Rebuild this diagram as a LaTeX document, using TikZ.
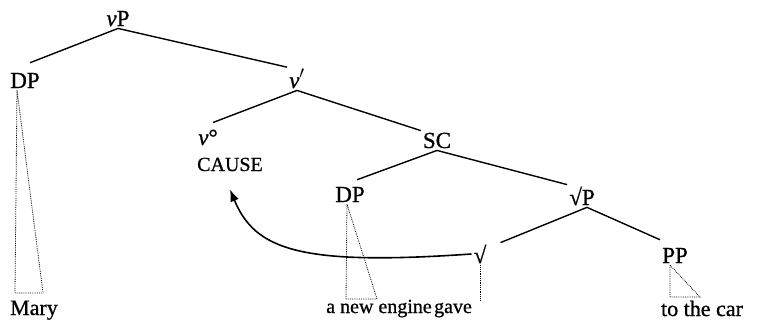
\documentclass[tikz,border=0pt]{standalone}
\usepackage{fontspec}
\setmainfont{Liberation Serif}[FakeBold=0.8]
\usetikzlibrary{arrows.meta}

\begin{document}
\begin{tikzpicture}[
    x=1pt,y=-1pt,
    cat/.style={font=\fontsize{23}{26}\selectfont,inner sep=2pt,anchor=base},
    leaf/.style={font=\fontsize{20}{24}\selectfont,inner sep=2pt,anchor=base},
    branch/.style={line width=1.4pt},
    roof/.style={densely dotted,line width=0.8pt},
    move/.style={-{Latex[length=12pt,width=9pt]},line width=1.6pt}
  ]
    \useasboundingbox (0,0) rectangle (766,325);
    \node[cat] (vP) at (118,26) {\textit{v}P};
    \node[cat] (dpA) at (25,88) {DP};
    \node[cat] (vbar) at (297,88) {\textit{v}$'$};
    \node[cat] (vzero) at (208,145) {\textit{v}°};
    \node[leaf] (cause) at (230,171) {CAUSE};
    \node[cat] (sc) at (437,148) {SC};
    \node[cat] (dpB) at (350,202) {DP};
    \node[cat] (rootP) at (582,205) {√P};
    \node[cat] (root) at (480,263) {√};
    \node[cat] (pp) at (675,263) {PP};
    \node[leaf,font=\fontsize{22}{26}\selectfont] (mary) at (34,315) {Mary};
    \node[leaf] (engine) at (379,313) {a new engine};
    \node[leaf] (gave) at (453,313) {gave};
    \node[leaf,font=\fontsize{22}{26}\selectfont] (car) at (702,316) {to the car};
    \draw[branch] (vP.south) -- ([shift={(5,-8)}]dpA.north);
    \draw[branch] (vP.south) -- (vbar.north west);
    \draw[branch] (vbar.south) -- ([shift={(5,-5)}]vzero.north);
    \draw[branch] (vbar.south) -- (sc.north west);
    \draw[branch] (sc.south) -- ([shift={(7,-5)}]dpB.north);
    \draw[branch] (sc.south) -- (rootP.north west);
    \draw[branch] ([xshift=5pt]rootP.south) -- ([xshift=12pt]root.north east);
    \draw[branch] ([xshift=5pt]rootP.south) -- ([yshift=6pt]pp.north west);
    \coordinate (maryL) at (15,293);
    \coordinate (maryR) at (43,293);
    \coordinate (engineL) at (346,299);
    \coordinate (engineR) at (377,299);
    \coordinate (carL) at (670,297);
    \coordinate (carR) at (700,297);
    \draw[roof] ([xshift=-8pt]dpA.south) -- (maryL) -- (maryR) -- cycle;
    \draw[roof] ([xshift=-3pt]dpB.south) -- (engineL) -- (engineR) -- cycle;
    \draw[roof] (root.south) -- (root.south |- gave.north);
    \draw[roof] ([xshift=-5pt]pp.south) -- (carL) -- (carR) -- cycle;
    \draw[move] (root.west) .. controls (300,266) and (255,250) .. ([yshift=-16pt]cause.south);
  \end{tikzpicture}
\end{document}
